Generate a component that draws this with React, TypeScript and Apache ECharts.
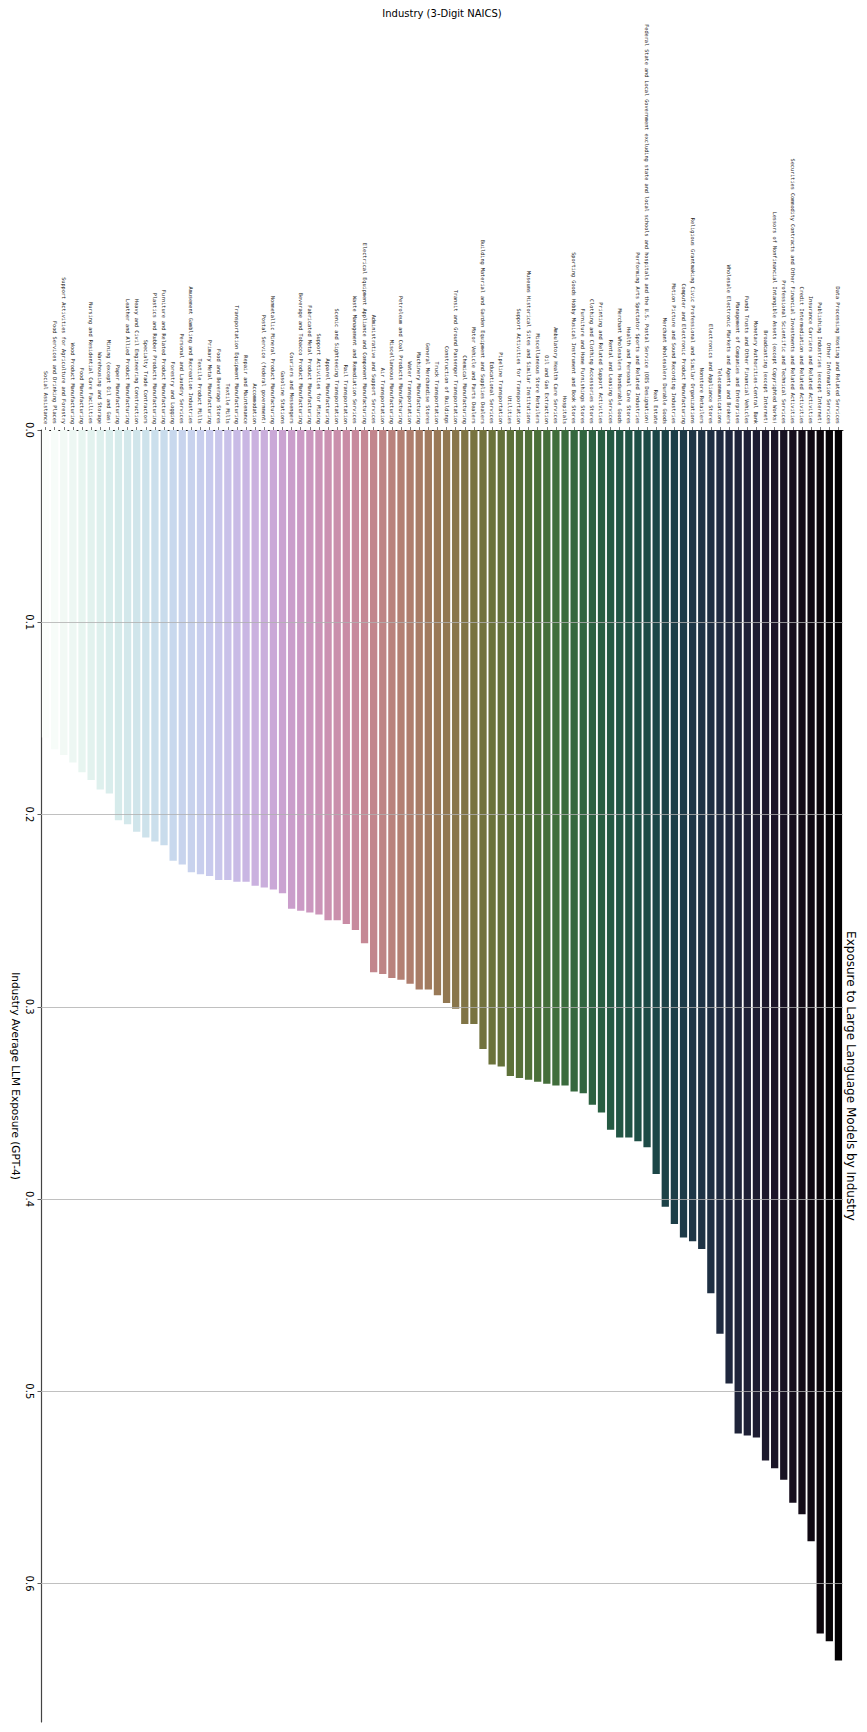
import React, { useEffect, useRef } from "react";
import * as echarts from "echarts";

// Categories ordered left to right (lowest exposure first)
const industries: string[] = [
  "Social Assistance",
  "Food Services and Drinking Places",
  "Support Activities for Agriculture and Forestry",
  "Wood Product Manufacturing",
  "Food Manufacturing",
  "Nursing and Residential Care Facilities",
  "Warehousing and Storage",
  "Mining (except Oil and Gas)",
  "Paper Manufacturing",
  "Leather and Allied Product Manufacturing",
  "Heavy and Civil Engineering Construction",
  "Specialty Trade Contractors",
  "Plastics and Rubber Products Manufacturing",
  "Furniture and Related Product Manufacturing",
  "Forestry and Logging",
  "Personal and Laundry Services",
  "Amusement Gambling and Recreation Industries",
  "Textile Product Mills",
  "Primary Metal Manufacturing",
  "Food and Beverage Stores",
  "Textile Mills",
  "Transportation Equipment Manufacturing",
  "Repair and Maintenance",
  "Accommodation",
  "Postal Service (federal government)",
  "Nonmetallic Mineral Product Manufacturing",
  "Gasoline Stations",
  "Couriers and Messengers",
  "Beverage and Tobacco Product Manufacturing",
  "Fabricated Metal Product Manufacturing",
  "Support Activities for Mining",
  "Apparel Manufacturing",
  "Scenic and Sightseeing Transportation",
  "Rail Transportation",
  "Waste Management and Remediation Services",
  "Electrical Equipment Appliance and Component Manufacturing",
  "Administrative and Support Services",
  "Air Transportation",
  "Miscellaneous Manufacturing",
  "Petroleum and Coal Products Manufacturing",
  "Water Transportation",
  "Machinery Manufacturing",
  "General Merchandise Stores",
  "Truck Transportation",
  "Construction of Buildings",
  "Transit and Ground Passenger Transportation",
  "Chemical Manufacturing",
  "Motor Vehicle and Parts Dealers",
  "Building Material and Garden Equipment and Supplies Dealers",
  "Educational Services",
  "Pipeline Transportation",
  "Utilities",
  "Support Activities for Transportation",
  "Museums Historical Sites and Similar Institutions",
  "Miscellaneous Store Retailers",
  "Oil and Gas Extraction",
  "Ambulatory Health Care Services",
  "Hospitals",
  "Sporting Goods Hobby Musical Instrument and Book Stores",
  "Furniture and Home Furnishings Stores",
  "Clothing and Clothing Accessories Stores",
  "Printing and Related Support Activities",
  "Rental and Leasing Services",
  "Merchant Wholesalers Nondurable Goods",
  "Health and Personal Care Stores",
  "Performing Arts Spectator Sports and Related Industries",
  "Federal State and Local Government excluding state and local schools and hospitals and the U.S. Postal Service (OES Designation)",
  "Real Estate",
  "Merchant Wholesalers Durable Goods",
  "Motion Picture and Sound Recording Industries",
  "Computer and Electronic Product Manufacturing",
  "Religious Grantmaking Civic Professional and Similar Organizations",
  "Nonstore Retailers",
  "Electronics and Appliance Stores",
  "Telecommunications",
  "Wholesale Electronic Markets and Agents and Brokers",
  "Management of Companies and Enterprises",
  "Funds Trusts and Other Financial Vehicles",
  "Monetary Authorities-Central Bank",
  "Broadcasting (except Internet)",
  "Lessors of Nonfinancial Intangible Assets (except Copyrighted Works)",
  "Professional Scientific and Technical Services",
  "Securities Commodity Contracts and Other Financial Investments and Related Activities",
  "Credit Intermediation and Related Activities",
  "Insurance Carriers and Related Activities",
  "Publishing Industries (except Internet)",
  "Other Information Services",
  "Data Processing Hosting and Related Services",
];

const exposure: number[] = [
  0.160, 0.166, 0.169, 0.173, 0.178, 0.182, 0.187, 0.189, 0.203, 0.205,
  0.209, 0.212, 0.214, 0.216, 0.224, 0.226, 0.230, 0.231, 0.232, 0.234,
  0.234, 0.235, 0.235, 0.237, 0.238, 0.239, 0.241, 0.249, 0.250, 0.251,
  0.252, 0.255, 0.255, 0.257, 0.260, 0.267, 0.282, 0.283, 0.285, 0.286,
  0.288, 0.291, 0.291, 0.294, 0.298, 0.301, 0.309, 0.309, 0.322, 0.330,
  0.331, 0.336, 0.337, 0.338, 0.339, 0.340, 0.341, 0.341, 0.344, 0.345,
  0.351, 0.355, 0.364, 0.368, 0.368, 0.370, 0.373, 0.387, 0.404, 0.413,
  0.420, 0.422, 0.426, 0.449, 0.470, 0.496, 0.522, 0.523, 0.524, 0.536,
  0.540, 0.546, 0.558, 0.564, 0.578, 0.626, 0.630, 0.640,
];

const valueTicks: number[] = [0, 0.1, 0.2, 0.3, 0.4, 0.5, 0.6];
const gridValues: number[] = [0.1, 0.2, 0.3, 0.4, 0.5, 0.6];

const titleText = "Exposure to Large Language Models by Industry";
const xAxisTitle = "Industry (3-Digit NAICS)";
const yAxisTitle = "Industry Average LLM Exposure (GPT-4)";

// matplotlib cubehelix colormap
function cubehelix(x: number): [number, number, number] {
  const idx = Math.min(255, Math.max(0, Math.floor(x * 256)));
  const t = idx / 255;
  const gamma = 1.0, s = 0.5, r = -1.5, h = 1.0;
  const xg = Math.pow(t, gamma);
  const a = (h * xg * (1 - xg)) / 2;
  const phi = 2 * Math.PI * (s / 3 + r * t);
  const f = (p0: number, p1: number) =>
    Math.min(1, Math.max(0, xg + a * (p0 * Math.cos(phi) + p1 * Math.sin(phi))));
  return [f(-0.14861, 1.78277), f(-0.29227, -0.90649), f(1.97294, 0.0)];
}

function rgbToHls(r: number, g: number, b: number): [number, number, number] {
  const maxc = Math.max(r, g, b), minc = Math.min(r, g, b);
  const l = (minc + maxc) / 2;
  if (minc === maxc) return [0, l, 0];
  const s = l <= 0.5 ? (maxc - minc) / (maxc + minc) : (maxc - minc) / (2 - maxc - minc);
  const rc = (maxc - r) / (maxc - minc);
  const gc = (maxc - g) / (maxc - minc);
  const bc = (maxc - b) / (maxc - minc);
  let hh: number;
  if (r === maxc) hh = bc - gc;
  else if (g === maxc) hh = 2 + rc - bc;
  else hh = 4 + gc - rc;
  hh = ((hh / 6) % 1 + 1) % 1;
  return [hh, l, s];
}
function hv(m1: number, m2: number, hue: number): number {
  hue = ((hue % 1) + 1) % 1;
  if (hue < 1 / 6) return m1 + (m2 - m1) * hue * 6;
  if (hue < 0.5) return m2;
  if (hue < 2 / 3) return m1 + (m2 - m1) * (2 / 3 - hue) * 6;
  return m1;
}
function hlsToRgb(h: number, l: number, s: number): [number, number, number] {
  if (s === 0) return [l, l, l];
  const m2 = l <= 0.5 ? l * (1 + s) : l + s - l * s;
  const m1 = 2 * l - m2;
  return [hv(m1, m2, h + 1 / 3), hv(m1, m2, h), hv(m1, m2, h - 1 / 3)];
}
function desaturate(c: [number, number, number], prop: number): string {
  const [h, l, s] = rgbToHls(c[0], c[1], c[2]);
  const [r, g, b] = hlsToRgb(h, l, s * prop);
  const to = (v: number) => Math.round(v * 255);
  return `rgb(${to(r)},${to(g)},${to(b)})`;
}

export default function App() {
  const ref = useRef<HTMLDivElement>(null);
  useEffect(() => {
    document.body.style.margin = "0";
    if (!ref.current) return;
    const chart = echarts.init(ref.current, null, { renderer: "svg" });
    const n = industries.length;
    const colors = industries.map((_, k) => {
      const i = n - 1 - k;
      return desaturate(cubehelix((i + 1) / (n + 1)), 0.75);
    });
    const maxVal = Math.max(...exposure) * 1.05;
    const font = "DejaVu Sans";
    chart.setOption({
      animation: false,
      backgroundColor: "#ffffff",
      grid: { left: 41, right: 24, top: 430, bottom: 10, containLabel: false },
      xAxis: {
        type: "category",
        position: "top",
        data: industries,
        boundaryGap: true,
        axisLine: { show: true, lineStyle: { color: "#222", width: 1 } },
        axisTick: { show: true, alignWithLabel: true, length: 3, lineStyle: { color: "#222", width: 0.6 } },
        axisLabel: {
          interval: 0,
          rotate: -90,
          margin: 6,
          fontSize: 5.2,
          fontFamily: "DejaVu Sans Mono",
          color: "#222",
        },
      },
      yAxis: {
        type: "value",
        inverse: true,
        min: 0,
        max: maxVal,
        interval: 0.1,
        position: "left",
        axisLine: { show: true, lineStyle: { color: "#444", width: 1.2 } },
        axisTick: { show: true, length: 3.5, customValues: valueTicks, lineStyle: { color: "#333", width: 0.8 } },
        axisLabel: {
          customValues: valueTicks,
          rotate: -90,
          margin: 7,
          fontSize: 10,
          fontFamily: font,
          color: "#000",
          formatter: (v: number) => {
            const r = Math.round(v * 10) / 10;
            return Math.abs(r - v) < 1e-6 ? r.toFixed(1) : "";
          },
        },
        splitLine: { show: false },
      },
      series: [
        {
          type: "bar",
          data: exposure.map((v, k) => ({ value: v, itemStyle: { color: colors[k] } })),
          barCategoryGap: "20%",
          markLine: {
            silent: true,
            symbol: ["none", "none"],
            label: { show: false },
            lineStyle: { color: "#b0b0b0", width: 0.8, type: "solid" },
            data: gridValues.map((v) => ({ yAxis: v })),
          },
        },
      ],
      graphic: [
        {
          type: "text",
          x: 851,
          y: 1076,
          rotation: -Math.PI / 2,
          style: {
            text: titleText,
            fontSize: 12,
            fontFamily: font,
            fill: "#000",
            align: "center",
            verticalAlign: "middle",
          },
        },
        {
          type: "text",
          x: 15.5,
          y: 1076,
          rotation: -Math.PI / 2,
          style: {
            text: yAxisTitle,
            fontSize: 10.5,
            fontFamily: font,
            fill: "#000",
            align: "center",
            verticalAlign: "middle",
          },
        },
        {
          type: "text",
          x: 442,
          y: 13,
          style: {
            text: xAxisTitle,
            fontSize: 10,
            fontFamily: font,
            fill: "#000",
            align: "center",
            verticalAlign: "middle",
          },
        },
      ],
    });
    return () => chart.dispose();
  }, []);
  return <div ref={ref} style={{ width: 867, height: 1732 }} />;
}
